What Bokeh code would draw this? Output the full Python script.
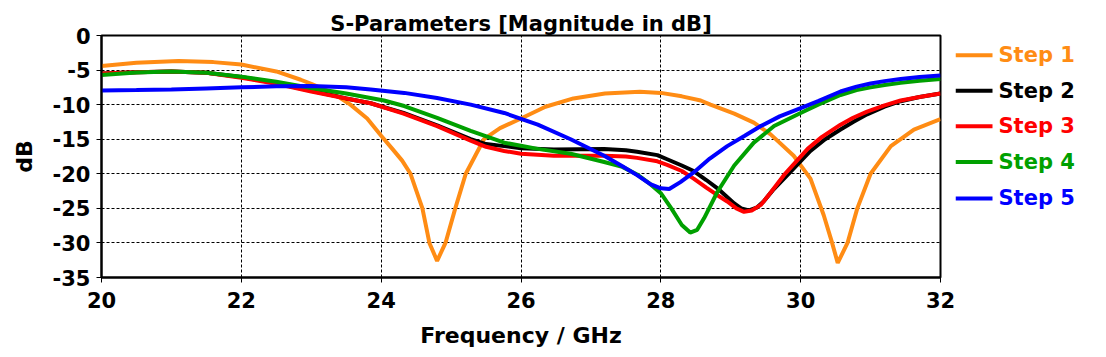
from bokeh.plotting import figure
from bokeh.models import FixedTicker
from bokeh.layouts import row
from bokeh.core.properties import value
from bokeh.embed import file_html
from bokeh.resources import INLINE

# ---- data ----
f_step1 = [20.0, 20.5, 21.1, 21.6, 22.0, 22.5, 22.85, 23.0, 23.3, 23.56, 23.8, 24.0, 24.16,
           24.3, 24.42, 24.59, 24.69, 24.80, 24.92, 25.06, 25.21, 25.47, 25.7, 26.0, 26.35,
           26.75, 27.2, 27.7, 28.0, 28.3, 28.57, 28.71, 29.05, 29.33, 29.57, 29.9, 30.14,
           30.33, 30.45, 30.53, 30.67, 30.81, 31.0, 31.29, 31.62, 32.0]
s_step1 = [-4.4, -3.95, -3.7, -3.85, -4.2, -5.2, -6.4, -7.0, -8.3, -10.0, -12.0, -14.5, -16.4,
           -18.1, -20.0, -25.0, -30.0, -32.6, -30.0, -25.0, -20.0, -15.0, -13.4, -12.0, -10.3,
           -9.1, -8.4, -8.15, -8.3, -8.8, -9.4, -10.0, -11.3, -12.6, -14.3, -17.4, -20.7,
           -26.0, -30.0, -32.9, -30.0, -25.0, -20.0, -16.0, -13.6, -12.1]

f_step2 = [20.0, 20.5, 21.0, 21.5, 22.0, 22.5, 23.0, 23.5, 23.85, 24.32, 24.8, 25.28, 25.5,
           25.76, 26.0, 26.47, 27.19, 27.5, 27.66, 27.95, 28.09, 28.3, 28.47, 28.65, 28.81,
           29.05, 29.15, 29.26, 29.37, 29.47, 29.6, 29.81, 30.14, 30.35, 30.57, 30.75, 30.95,
           31.2, 31.43, 31.7, 32.0]
s_step2 = [-5.5, -5.3, -5.2, -5.4, -6.0, -6.9, -8.0, -9.1, -9.8, -11.2, -13.0, -15.0, -15.7,
           -16.0, -16.3, -16.5, -16.4, -16.6, -16.8, -17.3, -17.9, -18.8, -19.6, -20.9, -22.1,
           -24.3, -25.0, -25.3, -24.9, -24.0, -22.4, -20.2, -16.7, -15.0, -13.6, -12.5, -11.4,
           -10.3, -9.5, -8.9, -8.4]

f_step3 = [20.0, 20.5, 21.0, 21.5, 22.0, 22.5, 23.0, 23.5, 23.85, 24.32, 24.8, 25.28, 25.5,
           25.76, 26.0, 26.47, 27.19, 27.5, 27.66, 27.95, 28.09, 28.3, 28.47, 28.65, 28.81,
           28.95, 29.08, 29.19, 29.3, 29.43, 29.58, 29.76, 30.1, 30.3, 30.57, 30.75, 30.95,
           31.2, 31.43, 31.7, 32.0]
s_step3 = [-5.5, -5.3, -5.2, -5.4, -6.1, -7.0, -8.1, -9.1, -9.8, -11.3, -13.1, -15.2, -16.1,
           -16.7, -17.1, -17.4, -17.4, -17.5, -17.7, -18.2, -18.7, -19.6, -20.7, -22.0, -23.1,
           -24.0, -25.0, -25.5, -25.3, -24.5, -22.6, -20.2, -16.4, -14.7, -12.9, -11.9, -11.0,
           -10.1, -9.4, -8.9, -8.4]

f_step4 = [20.0, 20.5, 21.0, 21.5, 22.0, 22.5, 23.0, 23.5, 24.04, 24.33, 24.8, 25.28, 25.76,
           26.24, 26.71, 27.19, 27.45, 27.66, 27.85, 28.0, 28.15, 28.3, 28.42, 28.52, 28.62,
           28.81, 29.05, 29.33, 29.62, 30.0, 30.25, 30.57, 30.8, 31.0, 31.2, 31.43, 31.7,
           32.0]
s_step4 = [-5.7, -5.35, -5.2, -5.4, -5.95, -6.7, -7.6, -8.4, -9.4, -10.2, -11.9, -13.8, -15.5,
           -16.4, -17.1, -18.3, -19.0, -20.1, -21.5, -22.8, -25.0, -27.4, -28.5, -28.1, -26.4,
           -22.6, -18.8, -15.5, -13.1, -11.2, -10.0, -8.6, -7.9, -7.5, -7.15, -6.85, -6.55,
           -6.3]

f_step5 = [20.0, 20.5, 21.0, 21.5, 22.0, 22.5, 23.0, 23.5, 23.85, 24.33, 24.8, 25.28, 25.76,
           26.24, 26.71, 27.19, 27.45, 27.66, 27.85, 28.0, 28.12, 28.28, 28.47, 28.7, 28.95,
           29.2, 29.43, 29.7, 30.0, 30.25, 30.57, 30.8, 31.0, 31.2, 31.43, 31.7, 32.0]
s_step5 = [-7.95, -7.9, -7.8, -7.65, -7.5, -7.35, -7.3, -7.5, -7.8, -8.3, -9.05, -10.0, -11.2,
           -12.9, -15.0, -17.4, -18.9, -20.2, -21.5, -22.1, -22.2, -21.2, -19.8, -17.8, -16.0,
           -14.5, -13.1, -11.7, -10.5, -9.5, -8.1, -7.4, -6.95, -6.6, -6.3, -6.0, -5.8]

series_names = ["Step 1", "Step 2", "Step 3", "Step 4", "Step 5"]
series_colors = ["#FF8C14", "#000000", "#FF0000", "#00A000", "#0000FF"]

x_ticks = [20, 22, 24, 26, 28, 30, 32]
x_tick_labels = ["20", "22", "24", "26", "28", "30", "32"]
y_ticks = [0, -5, -10, -15, -20, -25, -30, -35]
y_tick_labels = ["0", "-5", "-10", "-15", "-20", "-25", "-30", "-35"]

FONT = "DejaVu Sans"
H = 350
TOP = 35
BOTTOM = 280

p = figure(width=955, height=H, x_range=(20, 32), y_range=(-35, 0),
           output_backend="svg", toolbar_location=None,
           min_border_left=101, min_border_right=15, min_border_top=TOP,
           min_border_bottom=H - BOTTOM)

p.title.text = "S-Parameters [Magnitude in dB]"
p.title.align = "center"
p.title.text_font = FONT
p.title.text_font_size = "21px"
p.title.text_font_style = "bold"
p.title.text_color = "black"
p.title.standoff = 0

p.outline_line_color = "black"
p.outline_line_width = 2

for ax in (p.xaxis[0], p.yaxis[0]):
    ax.axis_line_color = "black"
    ax.axis_line_width = 2
    ax.major_tick_line_color = "black"
    ax.major_tick_line_width = 1
    ax.major_tick_in = 0
    ax.major_tick_out = 5
    ax.minor_tick_line_color = None
    ax.major_label_text_font = FONT
    ax.major_label_text_font_size = "21px"
    ax.major_label_text_font_style = "bold"
    ax.major_label_text_color = "black"
    ax.axis_label_text_font = FONT
    ax.axis_label_text_font_size = "22px"
    ax.axis_label_text_font_style = "bold"
    ax.axis_label_text_color = "black"

p.xaxis[0].ticker = FixedTicker(ticks=x_ticks)
p.xaxis[0].major_label_overrides = {t: l for t, l in zip(x_ticks, x_tick_labels)}
p.yaxis[0].ticker = FixedTicker(ticks=y_ticks)
p.yaxis[0].major_label_overrides = {t: l for t, l in zip(y_ticks, y_tick_labels)}
p.xaxis[0].axis_label = "Frequency / GHz"
p.yaxis[0].axis_label = "dB"
p.xaxis[0].major_label_standoff = 9
p.yaxis[0].major_label_standoff = 6
p.xaxis[0].axis_label_standoff = 12
p.yaxis[0].axis_label_standoff = 13

for g in (p.xgrid[0], p.ygrid[0]):
    g.grid_line_color = "black"
    g.grid_line_width = 1
    g.grid_line_dash = "3 2"

xs_all = [f_step1, f_step2, f_step3, f_step4, f_step5]
ys_all = [s_step1, s_step2, s_step3, s_step4, s_step5]
for xs, ys, c in zip(xs_all, ys_all, series_colors):
    p.line(xs, ys, line_color=c, line_width=4)

# ---- legend panel (separate canvas to the right of the plot) ----
LW = 1090 - 955
lg = figure(width=LW, height=H, x_range=(0, LW), y_range=(BOTTOM, TOP),
            output_backend="svg", toolbar_location=None,
            min_border_left=0, min_border_right=0, min_border_top=TOP,
            min_border_bottom=H - BOTTOM, outline_line_color=None)
lg.axis.visible = False
lg.grid.visible = False
entry_y = [55, 91, 127, 163, 200]
lg.segment(x0=[0] * 5, y0=entry_y, x1=[37] * 5, y1=entry_y,
           line_color=series_colors, line_width=4)
lg.text(x=[43] * 5, y=entry_y, text=series_names, text_color=series_colors,
        text_baseline="middle", text_align="left",
        text_font=value(FONT), text_font_size="21px", text_font_style="bold")

layout = row(p, lg)
open("out.html", "w").write(file_html(layout, INLINE))
